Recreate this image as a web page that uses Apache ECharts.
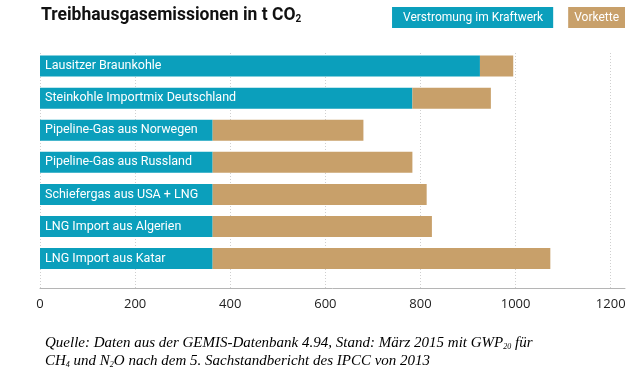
<!DOCTYPE html>
<html>
<head>
<meta charset="utf-8">
<script src="https://cdn.jsdelivr.net/npm/echarts@6/dist/echarts.min.js"></script>
<style>html,body{margin:0;padding:0;background:#fff}#c{width:640px;height:384px}</style>
</head>
<body>
<div id="c"></div>
<script>
const categories = [
  'Lausitzer Braunkohle',
  'Steinkohle Importmix Deutschland',
  'Pipeline-Gas aus Norwegen',
  'Pipeline-Gas aus Russland',
  'Schiefergas aus USA + LNG',
  'LNG Import aus Algerien',
  'LNG Import aus Katar'
];
const verstromung = [925, 783, 363, 363, 363, 363, 363];
const vorkette = [70, 165, 317, 420, 450, 461, 710];
const seriesNames = ['Verstromung im Kraftwerk', 'Vorkette'];
const xTicks = { min: 0, max: 1230, interval: 200 };

const TEAL = '#0b9fbc';
const TAN = '#c8a06a';
const SANS = 'Roboto, "Open Sans", sans-serif';

const chart = echarts.init(document.getElementById('c'), null, { renderer: 'canvas' });
chart.setOption({
  animation: false,
  backgroundColor: '#ffffff',
  title: {
    text: '{a|Treibhausgasemissionen in t CO}{s|2}',
    left: 41, top: 6, padding: 0,
    textStyle: {
      rich: {
        a: { fontFamily: SANS, fontWeight: 'bold', fontSize: 17.5, color: '#111', lineHeight: 20 },
        s: { fontFamily: SANS, fontWeight: 'bold', fontSize: 10, color: '#111', lineHeight: 20, padding: [6, 0, 0, 0] }
      }
    }
  },
  legend: {
    right: 15, top: 7, padding: 0, itemGap: 10,
    itemWidth: 0, itemHeight: 0, icon: 'none', selectedMode: false,
    data: [
      { name: seriesNames[0], textStyle: { color: '#fff', backgroundColor: TEAL, padding: [4, 10, 4, 11], fontSize: 12, fontFamily: SANS, lineHeight: 13 } },
      { name: seriesNames[1], textStyle: { color: '#fff', backgroundColor: TAN, padding: [4, 6, 4, 6], fontSize: 12, fontFamily: SANS, lineHeight: 13 } }
    ]
  },
  grid: [
    { left: 40, right: 15, top: 50, bottom: 109.4 },
    { left: 40, right: 15, top: 53, bottom: 96 }
  ],
  xAxis: [
    { gridIndex: 0, type: 'value', min: xTicks.min, max: xTicks.max, interval: xTicks.interval, show: false },
    {
      gridIndex: 1, type: 'value', min: xTicks.min, max: xTicks.max, interval: xTicks.interval,
      axisLine: { show: true, lineStyle: { color: '#b5b5b5', width: 1 } },
      axisTick: { show: false },
      axisLabel: { margin: 10, color: '#222', fontSize: 13, fontFamily: '"Open Sans", sans-serif', showMaxLabel: false, formatter: function (v) { return String(v); } },
      splitLine: { show: true, showMaxLine: false, lineStyle: { color: '#cfcfcf', type: [1, 2], width: 1 } }
    }
  ],
  yAxis: [
    { gridIndex: 0, type: 'category', data: categories, inverse: true, show: false },
    { gridIndex: 1, type: 'value', min: 0, max: 1, show: false }
  ],
  series: [
    {
      name: seriesNames[0], type: 'bar', stack: 'total', xAxisIndex: 0, yAxisIndex: 0,
      data: verstromung, barWidth: 21, itemStyle: { color: TEAL },
      label: { show: true, position: 'insideLeft', distance: 5, formatter: '{b}', color: '#fff', fontSize: 12.5, fontFamily: SANS }
    },
    {
      name: seriesNames[1], type: 'bar', stack: 'total', xAxisIndex: 0, yAxisIndex: 0,
      data: vorkette, barWidth: 21, itemStyle: { color: TAN }
    }
  ],
  graphic: [
    {
      type: 'text', left: 45, top: 336,
      style: {
        text: '{t|Quelle: Daten aus der GEMIS-Datenbank 4.94, Stand: März 2015 mit GWP}{s|20}{t| für}\n{t|CH}{s|4}{t| und N}{s|2}{t|O nach dem 5. Sachstandbericht des IPCC von 2013}',
        rich: {
          t: { fontFamily: '"Liberation Serif", serif', fontStyle: 'italic', fontSize: 15, color: '#222', lineHeight: 18 },
          s: { fontFamily: '"Liberation Serif", serif', fontStyle: 'italic', fontSize: 8, color: '#222', lineHeight: 18, padding: [7, 0, 0, 0] }
        }
      }
    }
  ]
});
</script>
</body>
</html>
